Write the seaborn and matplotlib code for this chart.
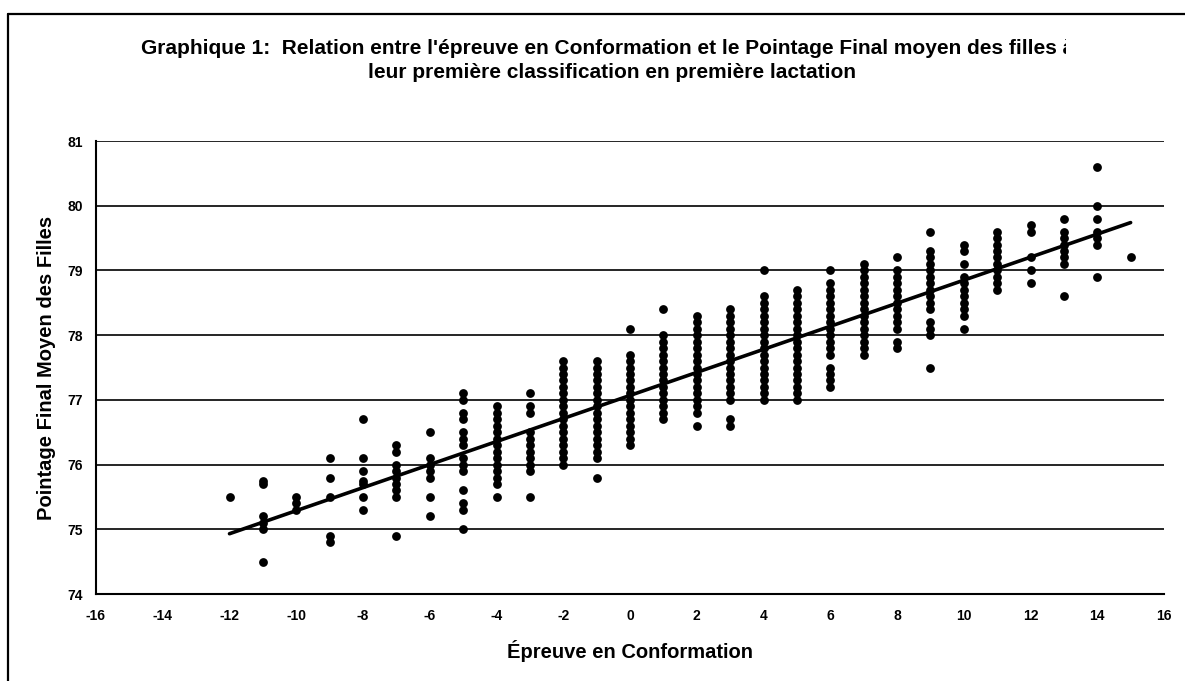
import numpy as np
import pandas as pd
import matplotlib
matplotlib.use("Agg")
import matplotlib.pyplot as plt
import seaborn as sns
from matplotlib.lines import Line2D
from matplotlib.transforms import Bbox, TransformedBbox

# Pointage final moyen des filles, par valeur d'épreuve en conformation
col_m12 = [75.5]
col_m11 = [75.75, 75.7, 75.2, 75.1, 75.0, 74.5]
col_m10 = [75.5, 75.4, 75.3]
col_m9 = [76.1, 75.8, 75.5, 74.9, 74.8]
col_m8 = [76.7, 76.1, 75.9, 75.75, 75.7, 75.5, 75.3]
col_m7 = [76.3, 76.2, 76.0, 75.9, 75.8, 75.7, 75.6, 75.5, 74.9]
col_m6 = [76.5, 76.1, 76.0, 75.9, 75.8, 75.5, 75.2]
col_m5 = [77.1, 77.0, 76.8, 76.7, 76.5, 76.4, 76.3, 76.1, 76.0, 75.9, 75.6, 75.4, 75.3, 75.0]
col_m4 = [76.9, 76.8, 76.7, 76.6, 76.5, 76.4, 76.3, 76.2, 76.1, 76.0, 75.9, 75.8, 75.7, 75.5]
col_m3 = [77.1, 76.9, 76.8, 76.5, 76.4, 76.3, 76.2, 76.1, 76.0, 75.9, 75.5]
col_m2 = [77.6, 77.5, 77.4, 77.3, 77.2, 77.1, 77.0, 76.9, 76.8, 76.7, 76.6, 76.5, 76.4, 76.3,
          76.2, 76.1, 76.0]
col_m1 = [77.6, 77.5, 77.4, 77.3, 77.2, 77.1, 77.0, 76.9, 76.8, 76.7, 76.6, 76.5, 76.4, 76.3,
          76.2, 76.1, 75.8]
col_0 = [78.1, 77.7, 77.6, 77.5, 77.4, 77.3, 77.2, 77.1, 77.0, 76.9, 76.8, 76.7, 76.6, 76.5,
         76.4, 76.3]
col_1 = [78.4, 78.0, 77.9, 77.8, 77.7, 77.6, 77.5, 77.4, 77.3, 77.2, 77.1, 77.0, 76.9, 76.8,
         76.7]
col_2 = [78.3, 78.2, 78.1, 78.0, 77.9, 77.8, 77.7, 77.6, 77.5, 77.4, 77.3, 77.2, 77.1, 77.0,
         76.9, 76.8, 76.6]
col_3 = [78.4, 78.3, 78.2, 78.1, 78.0, 77.9, 77.8, 77.7, 77.6, 77.5, 77.4, 77.3, 77.2, 77.1,
         77.0, 76.7, 76.6]
col_4 = [79.0, 78.6, 78.5, 78.4, 78.3, 78.2, 78.1, 78.0, 77.9, 77.8, 77.7, 77.6, 77.5, 77.4,
         77.3, 77.2, 77.1, 77.0]
col_5 = [78.7, 78.6, 78.5, 78.4, 78.3, 78.2, 78.1, 78.0, 77.9, 77.8, 77.7, 77.6, 77.5, 77.4,
         77.3, 77.2, 77.1, 77.0]
col_6 = [79.0, 78.8, 78.7, 78.6, 78.5, 78.4, 78.3, 78.2, 78.1, 78.0, 77.9, 77.8, 77.7, 77.5,
         77.4, 77.3, 77.2]
col_7 = [79.1, 79.0, 78.9, 78.8, 78.7, 78.6, 78.5, 78.4, 78.3, 78.2, 78.1, 78.0, 77.9, 77.8,
         77.7]
col_8 = [79.2, 79.0, 78.9, 78.8, 78.7, 78.6, 78.5, 78.4, 78.3, 78.2, 78.1, 77.9, 77.8]
col_9 = [79.6, 79.3, 79.2, 79.1, 79.0, 78.9, 78.8, 78.7, 78.6, 78.5, 78.4, 78.2, 78.1, 78.0,
         77.5]
col_10 = [79.4, 79.3, 79.1, 78.9, 78.8, 78.7, 78.6, 78.5, 78.4, 78.3, 78.1]
col_11 = [79.6, 79.5, 79.4, 79.3, 79.2, 79.1, 79.0, 78.9, 78.8, 78.7]
col_12 = [79.7, 79.6, 79.2, 79.0, 78.8]
col_13 = [79.8, 79.6, 79.5, 79.4, 79.3, 79.2, 79.1, 78.6]
col_14 = [80.6, 80.0, 79.8, 79.6, 79.5, 79.4, 78.9]
col_15 = [79.2]

epreuves = [-12, -11, -10, -9, -8, -7, -6, -5, -4, -3, -2, -1, 0, 1, 2, 3, 4, 5, 6, 7, 8, 9,
            10, 11, 12, 13, 14, 15]
colonnes = [col_m12, col_m11, col_m10, col_m9, col_m8, col_m7, col_m6, col_m5, col_m4, col_m3,
            col_m2, col_m1, col_0, col_1, col_2, col_3, col_4, col_5, col_6, col_7, col_8,
            col_9, col_10, col_11, col_12, col_13, col_14, col_15]

x_ticks = list(range(-16, 17, 2))
y_ticks = list(range(74, 82))

title_line1 = "Graphique 1:  Relation entre l'épreuve en Conformation et le Pointage Final moyen des filles à"
title_line2 = "leur première classification en première lactation"

# Build the table
rows = []
for ep, vals in zip(epreuves, colonnes):
    for v in vals:
        rows.append({"Epreuve": ep, "Pointage": v})
df = pd.DataFrame(rows)

sns.set_style("white")
plt.rcParams['font.family'] = ['Liberation Sans', 'DejaVu Sans']
plt.rcParams['font.weight'] = 'bold'
plt.rcParams['text.color'] = 'black'
plt.rcParams['axes.labelcolor'] = 'black'
plt.rcParams['axes.unicode_minus'] = False

W, H = 1185, 681
fig = plt.figure(figsize=(W / 100, H / 100), dpi=100)
ax = fig.add_axes([96 / W, 1 - 594 / H, (1164 - 96) / W, (594 - 141) / H])

sns.regplot(data=df, x="Epreuve", y="Pointage", ci=None, ax=ax,
            scatter_kws={"s": 40, "color": "black", "alpha": 1, "linewidths": 0, "zorder": 3},
            line_kws={"color": "black", "lw": 2.6, "zorder": 4})

ax.set_xlim(-16, 16)
ax.set_ylim(74, 81)
ax.set_xticks(x_ticks)
ax.set_yticks(y_ticks)
ax.yaxis.grid(True, color="black", lw=1.2)
ax.xaxis.grid(False)
ax.set_axisbelow(True)

for s in ["top", "right"]:
    ax.spines[s].set_visible(False)
for s in ["left", "bottom"]:
    ax.spines[s].set_color("black")
    ax.spines[s].set_linewidth(1.5)

ax.tick_params(axis="both", direction="out", length=3.5, width=1.2, color="black",
               labelsize=10, labelcolor="black")
ax.tick_params(axis="x", pad=7)
ax.tick_params(axis="y", pad=6)
for lbl in ax.get_xticklabels() + ax.get_yticklabels():
    lbl.set_fontweight("bold")

ax.set_xlabel("Épreuve en Conformation", fontsize=14.5, fontweight="bold")
ax.set_ylabel("Pointage Final Moyen des Filles", fontsize=14.5, fontweight="bold")
ax.xaxis.set_label_coords(0.5, -(640 - 594) / (594 - 141))
ax.yaxis.set_label_coords(-(96 - 56) / (1164 - 96), 0.5)

# Title, first line clipped on the right like the original box
t1 = fig.text(141 / W, 1 - 48 / H, title_line1, ha="left", va="center",
              fontsize=15, fontweight="bold")
t1.set_clip_box(TransformedBbox(Bbox([[0, 0], [1066 / W, 1]]), fig.transFigure))
t1.set_clip_on(True)
fig.text(612 / W, 1 - 73 / H, title_line2, ha="center", va="center",
         fontsize=15, fontweight="bold")

# Outer frame (left and top edges only are visible)
fig.add_artist(Line2D([8 / W, 8 / W], [0, 1 - 14 / H], transform=fig.transFigure,
                      color="black", lw=1.6))
fig.add_artist(Line2D([8 / W, 1], [1 - 14 / H, 1 - 14 / H], transform=fig.transFigure,
                      color="black", lw=1.6))

fig.savefig("out.png", dpi=100, facecolor="white")
